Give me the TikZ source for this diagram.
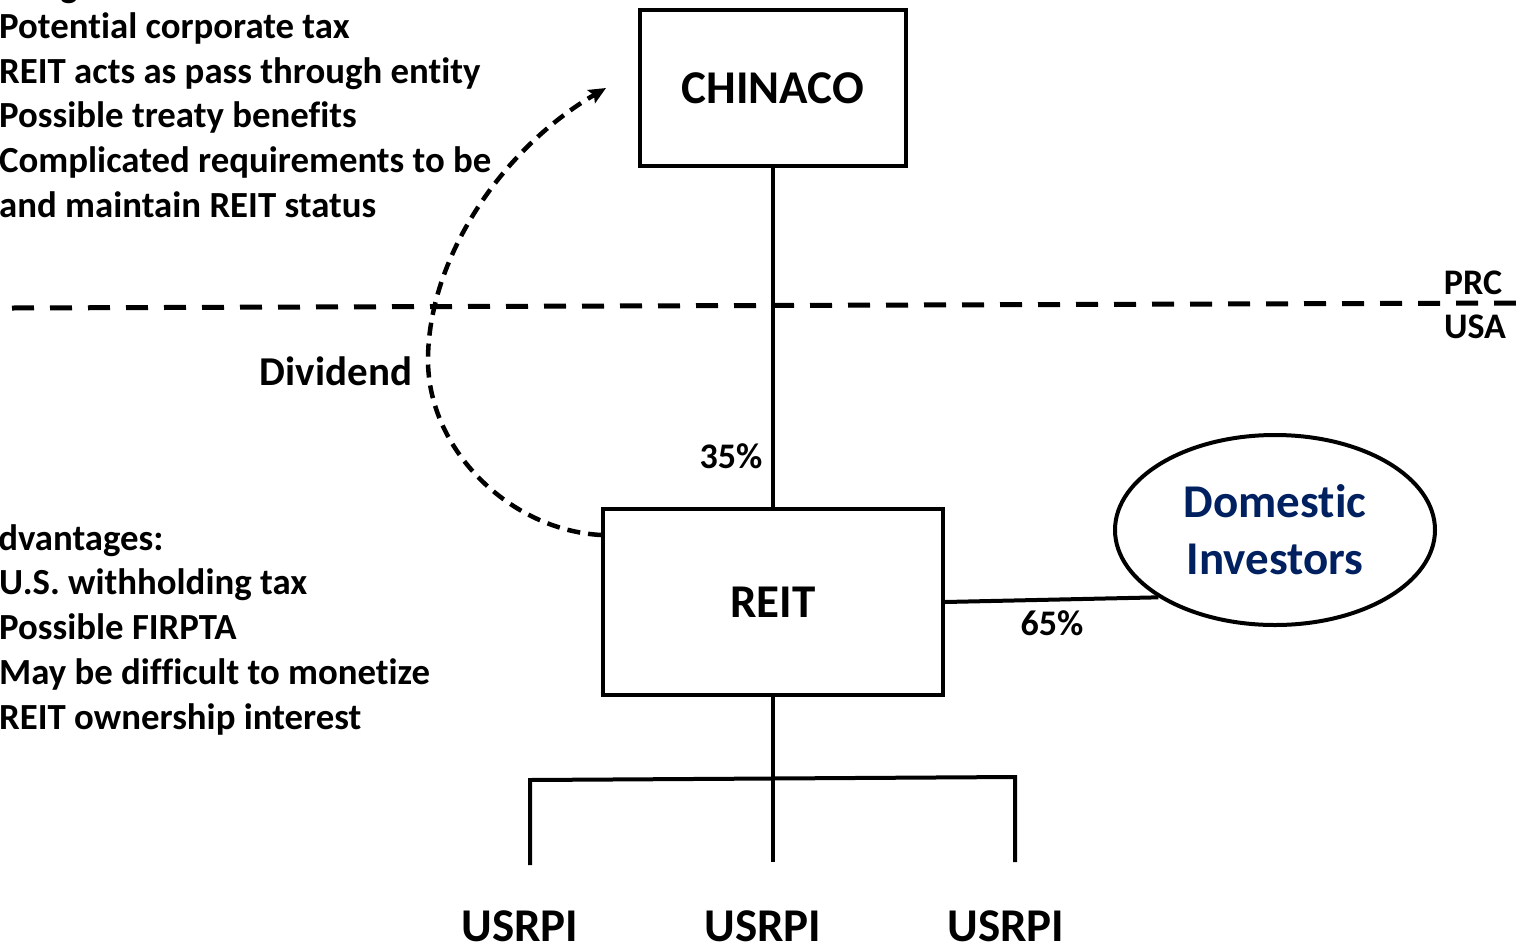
\documentclass[tikz,border=0pt]{standalone}
\usepackage{fontspec}
\setmainfont{Carlito}[Ligatures={NoCommon}]
\usetikzlibrary{arrows.meta,shapes.geometric}
\definecolor{navy}{RGB}{0,32,96}
\begin{document}
\begin{tikzpicture}[x=1pt,y=-1pt,
  entity/.style={draw, line width=4pt, rectangle, inner sep=0pt,
    font=\fontsize{47}{56}\selectfont\bfseries},
  party/.style={draw, line width=4pt, ellipse, inner sep=0pt, align=center,
    text=navy, font=\fontsize{47}{57}\selectfont\bfseries},
  note/.style={anchor=base west, inner sep=0pt, font=\fontsize{36.8}{44}\selectfont\bfseries},
  tag/.style={inner sep=0pt, font=\fontsize{36}{44}\selectfont\bfseries},
  asset/.style={inner sep=0pt, font=\fontsize{47}{56}\selectfont\bfseries},
  link/.style={line width=4pt, line join=miter},
  border/.style={line width=5pt, dash pattern=on 22pt off 16pt},
  flow/.style={line width=4.5pt, dash pattern=on 13pt off 8pt,
    -{Stealth[length=17pt,width=15pt,inset=3pt]}},
]
\useasboundingbox (0,0) rectangle (1516,946);
\clip (0,0) rectangle (1516,946);

% entities
\node[entity, minimum width=266pt, minimum height=156pt] (chinaco) at (773,88) {CHINACO};
\node[entity, minimum width=340pt, minimum height=186pt] (reit) at (773,602) {REIT};
\node[party, minimum width=320pt, minimum height=190pt] (dom) at (1275,530) {Domestic\\Investors};

% border between the two jurisdictions
\coordinate (borderL) at (12,308);
\coordinate (borderR) at (1516,303);
\draw[border] (borderL) -- (borderR);
\node[tag] (prc) at (1473,283) {PRC};
\node[tag] (usa) at (1475,327) {USA};

% ownership lines
\draw[link] (chinaco.south) -- (reit.north);
\node[tag] (p35) at (731,456) {35\%};
\draw[link] (reit.east) -- (dom.210);
\node[tag] (p65) at (1052,623) {65\%};

% properties held by the REIT
\coordinate (barL) at (530,780);
\coordinate (barR) at (1015,777);
\coordinate (stemL) at (530,865);
\coordinate (stemM) at (773,862);
\coordinate (stemR) at (1015,862);
\draw[link] (reit.south) -- (stemM);
\draw[link] (stemL) -- (barL) -- (barR) -- (stemR);
\node[asset] (u1) at (520,926) {USRPI};
\node[asset] (u2) at (763,926) {USRPI};
\node[asset] (u3) at (1006,926) {USRPI};

% dividend flow back to the parent
\coordinate (divend) at (606,88);
\draw[flow] ([yshift=-28pt]reit.north west)
  .. controls (510,530) and (428,450) .. (428,360)
  .. controls (428,260) and (500,150) .. (divend);
\node[inner sep=0pt, font=\fontsize{41}{50}\selectfont\bfseries] (div) at (336,371) {Dividend};

% notes
\node[note] (a0) at (-67,-3) {Advantages:};
\node[note] (a1) at (-1,38) {Potential corporate tax};
\node[note] (a2) at (-1,83) {REIT acts as pass through entity};
\node[note] (a3) at (-1,127) {Possible treaty benefits};
\node[note] (a4) at (-1,172) {Complicated requirements to be};
\node[note] (a5) at (-1,217) {and maintain REIT status};

\node[note] (d0) at (-67,550) {Disadvantages:};
\node[note] (d1) at (-1,594) {U.S. withholding tax};
\node[note] (d2) at (-1,639) {Possible FIRPTA};
\node[note] (d3) at (-1,684) {May be difficult to monetize};
\node[note] (d4) at (-1,729) {REIT ownership interest};
\end{tikzpicture}
\end{document}
